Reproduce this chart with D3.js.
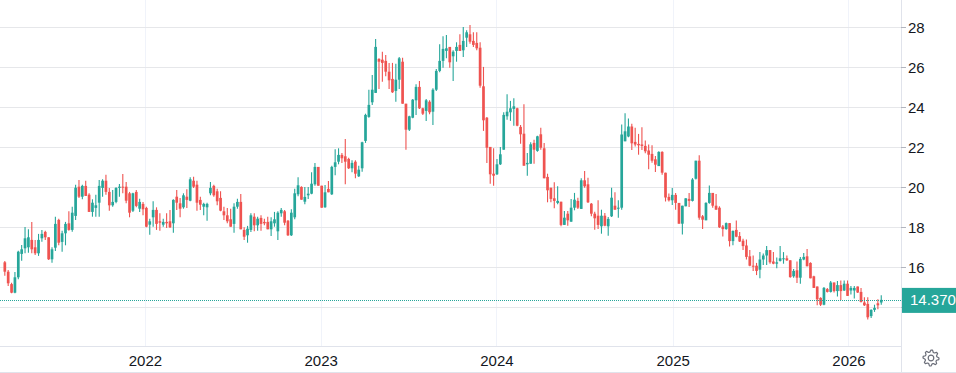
<!DOCTYPE html>
<html>
<head>
<meta charset="utf-8">
<script src="https://cdn.jsdelivr.net/npm/d3@7"></script>
<style>
  html, body { margin: 0; padding: 0; background: #fff; }
  svg { display: block; }
  text { font-family: "Liberation Sans", Arial, sans-serif; fill: #131722; }
</style>
</head>
<body>
<svg width="956" height="373"></svg>
<script>
// weekly candles, first bar on the week of 2021-03-15
const firstWeek = new Date(2021, 2, 15);

const opens = [
  16.25,15.78,15.16,14.73,15.5,16.67,16.95,17.0,17.37,17.0,
  16.7,17.45,17.77,17.5,16.4,16.98,18.37,17.27,17.7,18.2,
  17.87,18.57,20.03,19.53,20.07,19.63,18.77,18.97,19.23,19.97,
  20.33,19.77,19.1,19.27,19.97,20.03,20.03,19.7,18.83,19.77,
  18.93,19.17,18.97,18.13,18.5,18.87,18.3,18.13,18.27,18.3,
  18.2,19.53,19.2,19.0,19.53,19.33,20.33,20.13,19.37,19.03,
  19.0,19.7,20.07,19.8,19.47,18.8,18.6,18.4,18.17,19.03,
  19.27,17.87,17.6,17.87,18.53,18.1,18.47,18.27,18.27,17.9,
  18.2,17.8,18.7,18.8,18.33,17.6,18.5,19.65,20.02,19.28,
  19.6,19.68,20.15,21.02,20.08,19.0,19.92,19.65,21.02,21.28,
  21.62,21.55,21.42,20.95,21.28,20.55,20.95,22.32,23.52,24.25,
  24.72,26.42,26.38,26.32,25.78,25.42,24.82,25.38,26.28,24.18,
  22.88,23.48,24.35,25.02,23.95,23.82,24.28,23.78,24.88,25.82,
  26.32,26.82,27.02,26.55,26.82,27.12,26.85,27.48,27.65,27.32,
  27.22,26.98,25.05,23.48,22.02,20.68,20.65,21.15,21.88,23.55,
  23.75,23.92,23.95,23.02,22.68,21.15,21.18,22.22,21.82,22.65,
  21.95,20.52,19.98,19.45,19.22,19.28,18.12,18.68,18.28,18.98,
  19.32,18.92,20.35,20.15,19.18,18.68,18.58,18.05,18.58,18.05,
  18.55,19.08,18.95,18.98,22.3,22.54,23.04,22.27,22.17,22.14,
  22.07,21.84,21.67,21.4,21.06,21.77,20.73,19.52,19.35,19.62,
  19.22,18.18,19.05,19.42,19.32,20.43,21.33,18.55,18.35,19.22,
  19.72,19.08,18.98,18.04,17.91,18.21,17.31,17.87,17.56,17.33,
  17.09,16.55,16.08,16.08,15.88,16.39,16.59,16.86,16.29,16.18,
  16.32,16.42,16.45,16.35,15.55,15.85,15.48,16.39,16.55,16.22,
  15.55,15.04,14.47,14.13,14.91,14.77,15.24,14.81,15.11,14.84,
  15.18,14.84,14.84,15.04,14.77,14.24,14.17,13.56,13.87,14.2,14.24
];

const highs = [
  16.32,15.87,15.23,15.76,16.83,17.12,18.02,17.9,18.27,17.37,
  17.67,17.87,17.83,17.5,17.0,18.53,18.43,17.83,18.27,18.8,
  19.03,20.13,20.37,20.13,20.33,19.7,19.4,19.63,20.37,20.4,
  20.63,19.97,19.87,20.0,20.17,20.67,20.27,19.77,19.73,19.87,
  19.43,19.27,19.03,18.43,19.3,19.0,18.7,18.43,18.7,18.87,
  19.4,19.87,19.47,19.7,19.9,20.5,20.53,20.33,19.53,19.23,
  19.23,20.27,20.13,19.93,19.8,19.03,18.97,18.93,19.2,19.43,
  19.67,18.0,18.07,18.7,18.7,18.53,18.6,18.43,18.53,18.5,
  18.77,18.8,18.97,18.87,18.37,18.9,19.93,20.5,20.05,20.02,
  20.02,20.75,21.22,21.02,20.08,20.12,20.32,21.08,21.9,21.95,
  21.72,22.42,21.48,21.35,21.35,21.08,22.28,23.68,24.88,25.62,
  27.42,26.45,26.78,26.62,26.22,26.22,26.18,26.52,26.48,24.18,
  23.58,24.42,25.15,25.32,23.98,24.42,24.35,24.95,25.92,27.15,
  27.55,27.62,27.02,26.85,27.25,27.65,28.02,27.85,28.12,27.75,
  27.75,27.25,26.02,23.52,22.02,21.95,21.42,22.02,23.75,24.65,
  24.32,24.45,23.98,23.12,24.15,21.72,22.25,22.38,22.58,22.98,
  22.22,20.68,19.98,20.25,20.05,19.28,18.82,18.82,19.42,19.72,
  19.48,20.45,20.82,20.48,19.22,18.78,19.35,18.88,18.72,18.52,
  19.98,19.75,19.35,23.14,23.7,23.44,23.18,22.98,22.67,23.0,
  22.34,22.14,22.1,21.57,21.8,21.8,20.73,19.69,19.96,19.72,
  19.22,19.08,19.45,19.72,20.46,21.33,21.6,18.61,19.25,20.09,
  19.72,19.66,19.05,18.11,18.24,18.21,17.84,18.34,17.76,17.43,
  17.39,16.86,16.59,16.22,16.76,16.69,17.06,16.86,16.76,16.49,
  17.06,16.76,16.59,16.35,15.92,16.29,16.52,16.72,16.92,16.25,
  15.58,15.04,14.5,15.01,14.97,15.31,15.24,15.31,15.34,15.34,
  15.34,15.07,15.07,15.04,14.97,14.5,14.5,13.9,14.13,14.4,14.6
];

const lows = [
  15.58,15.07,14.7,14.7,15.4,16.33,16.7,16.73,16.7,16.62,
  16.57,17.28,17.37,16.37,16.23,16.82,17.1,16.78,17.1,17.83,
  17.78,18.37,19.47,19.4,19.57,18.77,18.53,18.53,18.53,19.53,
  19.63,18.83,19.03,19.2,19.53,19.7,19.2,18.5,18.77,19.0,
  18.77,18.6,18.0,17.63,18.03,17.87,17.83,18.03,17.97,17.97,
  17.73,18.87,18.5,18.93,18.97,19.3,19.97,18.83,18.87,18.6,
  18.33,19.6,19.53,19.1,18.8,18.37,18.2,18.03,17.73,18.93,
  17.9,17.37,17.23,17.77,17.8,17.83,17.83,18.1,17.9,17.57,
  18.03,17.37,18.53,18.1,17.57,17.57,18.4,19.55,19.38,19.15,
  19.42,19.65,20.08,20.08,18.98,18.98,19.75,19.62,20.6,21.15,
  21.22,20.15,20.92,20.75,20.45,20.52,20.78,22.22,23.48,24.12,
  24.72,24.92,25.28,25.55,24.92,24.72,24.28,24.92,24.18,21.88,
  22.82,23.45,23.62,23.92,23.62,23.32,23.65,23.12,24.82,25.75,
  25.98,26.45,25.98,25.32,26.28,26.82,26.52,27.02,27.18,27.02,
  26.85,24.98,22.82,21.22,20.18,20.08,20.62,21.12,21.88,23.38,
  23.32,23.08,23.05,22.18,21.08,20.58,21.18,21.18,21.78,21.88,
  20.45,19.25,19.25,18.95,19.15,18.05,18.12,18.08,18.28,18.85,
  18.92,18.92,19.98,19.22,18.55,17.88,17.92,17.68,18.05,17.58,
  18.52,18.88,18.48,18.88,22.3,22.5,21.87,22.04,21.63,21.87,
  21.7,20.9,21.23,20.76,21.06,20.63,19.29,19.29,19.12,18.88,
  18.18,17.64,19.05,19.02,19.29,20.39,18.38,17.91,18.35,19.18,
  18.98,18.88,17.97,17.54,17.88,17.04,17.1,17.5,17.26,16.86,
  16.39,16.05,15.82,15.61,15.45,16.12,16.12,16.18,16.15,15.95,
  16.29,16.18,16.32,15.48,15.48,15.21,15.18,16.35,16.05,15.45,
  14.97,14.1,14.07,14.1,14.74,14.74,14.74,14.54,14.37,14.81,
  14.57,14.64,14.44,14.71,14.24,14.07,13.39,13.46,13.77,13.9,14.13
];

const closes = [
  15.78,15.2,14.73,15.5,16.78,16.9,17.45,17.5,16.9,16.7,
  17.37,17.67,17.5,16.4,16.9,18.17,17.23,17.7,18.17,17.87,
  18.73,19.98,19.53,20.07,19.57,18.77,19.23,19.1,20.07,20.33,
  19.77,19.1,19.27,19.97,20.03,20.0,19.33,18.73,19.7,19.07,
  19.27,18.9,18.03,18.3,18.87,18.17,18.23,18.27,18.2,18.0,
  19.37,19.23,18.93,19.6,19.37,20.4,20.03,19.23,19.13,19.17,
  19.17,19.97,19.6,19.3,18.83,18.6,18.3,18.03,19.03,19.27,
  17.9,17.53,17.93,18.6,18.1,18.43,18.17,18.2,17.9,18.3,
  18.4,18.73,18.87,18.23,17.6,18.73,19.7,20.1,19.38,19.52,
  19.68,20.18,21.02,20.08,18.98,19.75,19.75,21.02,21.25,21.62,
  21.45,21.28,20.95,21.22,20.68,20.88,22.25,23.62,24.12,24.88,
  27.02,26.28,26.22,25.78,25.35,24.75,25.38,26.45,24.18,22.88,
  23.55,24.38,25.02,23.95,23.68,24.35,23.75,24.88,25.82,26.32,
  26.92,26.95,26.25,26.78,27.02,26.82,27.32,27.75,27.28,27.12,
  26.95,25.08,23.35,21.98,20.65,20.58,21.15,21.65,23.62,23.78,
  23.95,24.05,23.08,22.65,21.08,21.22,22.15,21.88,22.55,21.98,
  20.45,19.85,19.42,19.32,19.32,18.12,18.48,18.35,18.98,19.38,
  18.98,20.35,20.05,19.25,18.68,18.45,18.12,18.58,18.08,18.42,
  19.48,18.88,18.98,22.64,22.8,23.04,22.2,22.14,22.1,22.07,
  21.8,21.63,21.33,21.13,21.77,20.73,19.49,19.35,19.62,19.22,
  18.18,19.08,19.45,19.32,20.39,21.33,18.48,18.38,19.22,19.72,
  19.08,18.88,18.0,17.91,18.21,17.31,17.82,17.53,17.29,17.06,
  16.52,16.08,16.05,15.82,16.39,16.59,16.86,16.25,16.18,16.25,
  16.45,16.45,16.35,15.51,15.82,15.48,16.42,16.52,16.05,15.45,
  14.97,14.4,14.13,14.97,14.77,15.24,14.81,15.11,14.81,15.18,
  14.57,14.97,14.97,14.74,14.27,14.1,13.5,13.87,13.97,14.1,14.37
];

const yearLabels = ["2022", "2023", "2024", "2025", "2026"];
const priceTicks = [14, 16, 18, 20, 22, 24, 26, 28];
const lastPrice = 14.37;

const svg = d3.select("svg");
const width = +svg.attr("width");
const height = +svg.attr("height");

const plotRight = 901;
const plotBottom = 346;
const up = "#26a69a";
const down = "#ef5350";

const candles = closes.map((c, i) => ({
  date: d3.timeWeek.offset(firstWeek, i),
  o: opens[i], h: highs[i], l: lows[i], c: c
}));

const x = d3.scaleTime()
  .domain([new Date(2021, 2, 5), new Date(2026, 3, 19)])
  .range([0, plotRight]);

const y = d3.scaleLinear()
  .domain([12.065, 29.365])
  .range([plotBottom, 0]);

// griglia
svg.append("g")
  .selectAll("line")
  .data(yearLabels)
  .join("line")
  .attr("x1", d => x(new Date(+d, 0, 1)))
  .attr("x2", d => x(new Date(+d, 0, 1)))
  .attr("y1", 0)
  .attr("y2", plotBottom)
  .attr("stroke", "#f0f3fa")
  .attr("shape-rendering", "crispEdges");

svg.append("g")
  .selectAll("line")
  .data(priceTicks)
  .join("line")
  .attr("x1", 0)
  .attr("x2", plotRight)
  .attr("y1", d => Math.round(y(d)) + 0.5)
  .attr("y2", d => Math.round(y(d)) + 0.5)
  .attr("stroke", "#e6e7ea");

// candele
const bars = svg.append("g")
  .selectAll("g")
  .data(candles)
  .join("g")
  .attr("transform", d => `translate(${x(d.date)},0)`);

bars.append("line")
  .attr("y1", d => y(d.h))
  .attr("y2", d => y(d.l))
  .attr("stroke", d => d.c >= d.o ? up : down)
  .attr("stroke-width", 1.1);

bars.append("rect")
  .attr("x", -1.35)
  .attr("width", 2.7)
  .attr("y", d => y(Math.max(d.o, d.c)))
  .attr("height", d => Math.max(1, Math.abs(y(d.o) - y(d.c))))
  .attr("fill", d => d.c >= d.o ? up : down);

// linea ultimo prezzo
svg.append("line")
  .attr("x1", 0)
  .attr("x2", plotRight)
  .attr("y1", Math.round(y(lastPrice)) + 0.5)
  .attr("y2", Math.round(y(lastPrice)) + 0.5)
  .attr("stroke", up)
  .attr("stroke-dasharray", "1,1");

// bordi
svg.append("line")
  .attr("x1", plotRight + 0.5).attr("x2", plotRight + 0.5)
  .attr("y1", 0).attr("y2", height)
  .attr("stroke", "#e0e3eb");

svg.append("line")
  .attr("x1", 0).attr("x2", plotRight)
  .attr("y1", plotBottom + 0.5).attr("y2", plotBottom + 0.5)
  .attr("stroke", "#e0e3eb");

svg.append("line")
  .attr("x1", 0).attr("x2", width)
  .attr("y1", height - 0.5).attr("y2", height - 0.5)
  .attr("stroke", "#e0e3eb");

// asse prezzi
const yAxis = svg.append("g");
yAxis.selectAll("line")
  .data(priceTicks)
  .join("line")
  .attr("x1", plotRight)
  .attr("x2", plotRight + 5)
  .attr("y1", d => Math.round(y(d)) + 0.5)
  .attr("y2", d => Math.round(y(d)) + 0.5)
  .attr("stroke", "#b2b5be");

yAxis.selectAll("text")
  .data(priceTicks.filter(d => d !== 14))
  .join("text")
  .attr("x", plotRight + 7)
  .attr("y", d => y(d) + 5.5)
  .attr("font-size", "15px")
  .text(d => d);

// etichetta ultimo prezzo
svg.append("rect")
  .attr("x", plotRight + 1)
  .attr("y", y(lastPrice) - 12)
  .attr("width", width - plotRight - 1)
  .attr("height", 25)
  .attr("fill", up);

svg.append("text")
  .attr("x", plotRight + 9)
  .attr("y", y(lastPrice) + 5.5)
  .attr("font-size", "15px")
  .style("fill", "#fff")
  .text(lastPrice.toFixed(3));

// asse tempo
svg.append("g")
  .selectAll("text")
  .data(yearLabels)
  .join("text")
  .attr("x", d => x(new Date(+d, 0, 1)))
  .attr("y", 366)
  .attr("text-anchor", "middle")
  .attr("font-size", "15px")
  .text(d => d);

// icona impostazioni
const gear = svg.append("g").attr("transform", "translate(931,358)");
const teeth = 8;
const gearPts = [];
for (let k = 0; k < teeth * 4; k++) {
  const a = (k / (teeth * 4)) * 2 * Math.PI - Math.PI / 2;
  const r = (k % 4 === 0 || k % 4 === 1) ? 8 : 6;
  gearPts.push([Math.cos(a) * r, Math.sin(a) * r]);
}
gear.append("path")
  .attr("d", d3.line().curve(d3.curveLinearClosed)(gearPts))
  .attr("fill", "none")
  .attr("stroke", "#6a6d78")
  .attr("stroke-width", 1.2)
  .attr("stroke-linejoin", "round");
gear.append("circle")
  .attr("r", 2.8)
  .attr("fill", "none")
  .attr("stroke", "#6a6d78")
  .attr("stroke-width", 1.2);
</script>
</body>
</html>
